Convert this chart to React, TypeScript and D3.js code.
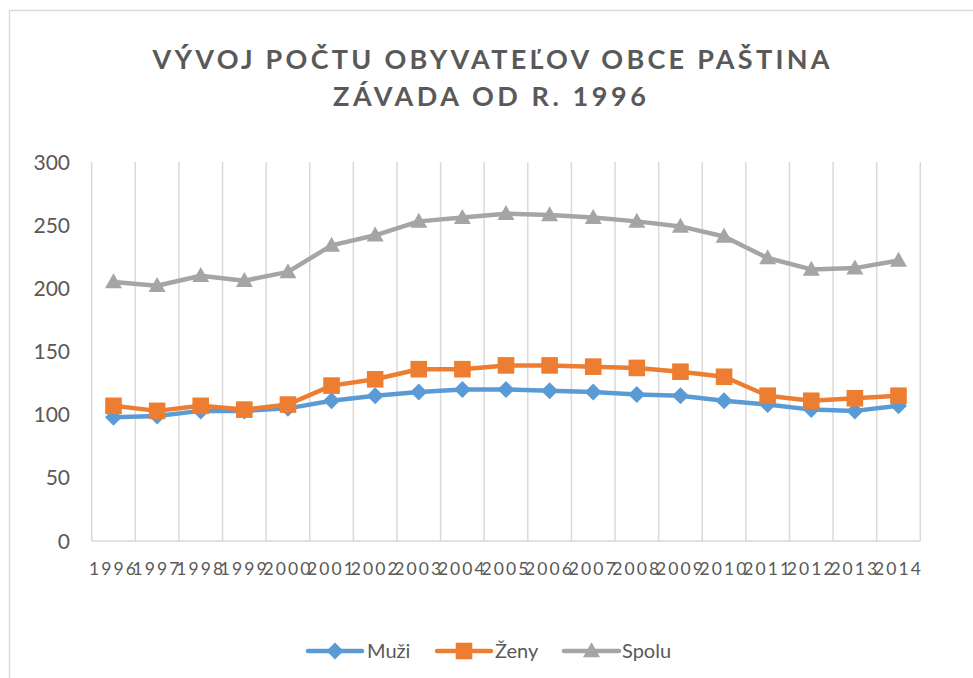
import React from "react";
import * as d3 from "d3";

const years = ["1996","1997","1998","1999","2000","2001","2002","2003","2004","2005","2006","2007","2008","2009","2010","2011","2012","2013","2014"];
const muzi = [98, 99, 103, 103, 105, 111, 115, 118, 120, 120, 119, 118, 116, 115, 111, 108, 104, 103, 107];
const zeny = [107, 103, 107, 104, 108, 123, 128, 136, 136, 139, 139, 138, 137, 134, 130, 115, 111, 113, 115];
const spolu = [205, 202, 210, 206, 213, 234, 242, 253, 256, 259, 258, 256, 253, 249, 241, 224, 215, 216, 222];
const yTicks = [0, 50, 100, 150, 200, 250, 300];
const seriesNames = ["Muži", "Ženy", "Spolu"];
const titleLines = ["VÝVOJ POČTU OBYVATEĽOV OBCE PAŠTINA", "ZÁVADA OD R. 1996"];

const W = 973, H = 678;
const plot = { left: 91.7, right: 920.3, top: 162, bottom: 541 };
const colors = ["#5B9BD5", "#ED7D31", "#A5A5A5"];
const textColor = "#595959";
const gridColor = "#D9D9D9";
const FONT = "Lato, 'Open Sans', sans-serif";

function Marker({ kind, x, y, color }: { kind: number; x: number; y: number; color: string }) {
  if (kind === 0) {
    const s = 8.5;
    return <path d={`M${x},${y - s}L${x + s},${y}L${x},${y + s}L${x - s},${y}Z`} fill={color} />;
  }
  if (kind === 1) {
    const s = 8.3;
    return <rect x={x - s} y={y - s} width={2 * s} height={2 * s} fill={color} />;
  }
  const w = 8.5, h = 15;
  return <path d={`M${x},${y - h * 0.58}L${x + w},${y + h * 0.42}L${x - w},${y + h * 0.42}Z`} fill={color} />;
}

export default function App() {
  const x = d3.scaleBand<string>().domain(years).range([plot.left, plot.right]);
  const y = d3.scaleLinear().domain([0, 300]).range([plot.bottom, plot.top]);
  const data = [muzi, zeny, spolu];
  const line = d3
    .line<number>()
    .x((_, i) => (x(years[i]) as number) + x.bandwidth() / 2)
    .y((d) => y(d));

  const boundaries = years.map((yr) => x(yr) as number).concat([plot.right]);

  const legendItems = [
    { lineStart: 308, lineEnd: 362, textX: 367 },
    { lineStart: 437, lineEnd: 491, textX: 495 },
    { lineStart: 564, lineEnd: 619, textX: 622 },
  ];
  const legendY = 651;

  return (
    <svg width={W} height={H} style={{ position: "absolute", left: 0, top: 0, background: "#fff" }} fontFamily={FONT}>
      <rect x={0} y={0} width={W} height={H} fill="#fff" />
      <rect x={9.5} y={10.5} width={W + 10} height={H + 10} fill="none" stroke={gridColor} strokeWidth={1.5} />

      {/* Title */}
      <text x={152.5} y={69} fontSize={27} fontWeight={700} fill={textColor} textLength={677} lengthAdjust="spacing">
        {titleLines[0]}
      </text>
      <text x={333} y={106} fontSize={27} fontWeight={700} fill={textColor} textLength={313} lengthAdjust="spacing">
        {titleLines[1]}
      </text>

      {/* vertical gridlines */}
      {boundaries.map((bx, i) => (
        <line key={i} x1={bx} x2={bx} y1={plot.top} y2={plot.bottom} stroke={gridColor} strokeWidth={1.5} />
      ))}
      <line x1={plot.left} x2={plot.right} y1={plot.bottom} y2={plot.bottom} stroke={gridColor} strokeWidth={1.5} />

      {/* y labels */}
      {yTicks.map((t) => (
        <text key={t} x={70} y={y(t)} dy="0.36em" textAnchor="end" fontSize={21} fill={textColor}>
          {t}
        </text>
      ))}

      {/* x labels */}
      {years.map((yr) => (
        <text
          key={yr}
          x={(x(yr) as number) + x.bandwidth() / 2}
          y={575}
          textAnchor="middle"
          fontSize={17.5}
          letterSpacing={2.1}
          fill={textColor}
        >
          {yr}
        </text>
      ))}

      {/* series */}
      {data.map((vals, si) => (
        <g key={si}>
          <path d={line(vals) || ""} fill="none" stroke={colors[si]} strokeWidth={4.5} strokeLinejoin="round" strokeLinecap="round" />
          {vals.map((v, i) => (
            <Marker key={i} kind={si} x={(x(years[i]) as number) + x.bandwidth() / 2} y={y(v)} color={colors[si]} />
          ))}
        </g>
      ))}

      {/* legend */}
      {legendItems.map((it, i) => (
        <g key={i}>
          <line x1={it.lineStart} x2={it.lineEnd} y1={legendY} y2={legendY} stroke={colors[i]} strokeWidth={4.5} strokeLinecap="round" />
          <Marker kind={i} x={(it.lineStart + it.lineEnd) / 2} y={legendY} color={colors[i]} />
          <text x={it.textX} y={legendY} dy="0.36em" fontSize={20} fill={textColor}>
            {seriesNames[i]}
          </text>
        </g>
      ))}
    </svg>
  );
}
